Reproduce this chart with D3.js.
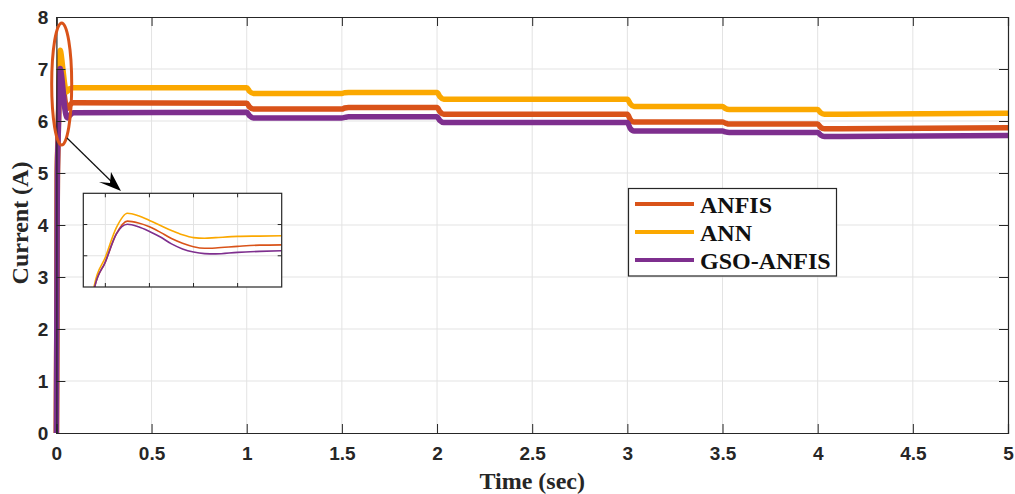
<!DOCTYPE html>
<html>
<head>
<meta charset="utf-8">
<script src="https://cdn.jsdelivr.net/npm/d3@7"></script>
<style>
  body { margin: 0; background: #fff; }
  svg { display: block; }
</style>
</head>
<body>
<div id="chart"></div>
<script>
// time axis (s) shared by all three controllers
const time = [0, 0.005, 0.010, 0.015, 0.020, 0.025, 0.030, 0.035, 0.040, 0.045, 0.050, 0.055, 0.060, 0.070, 0.080, 0.090,
  1.0, 1.015, 1.035, 1.5, 1.515, 1.535, 2.0, 2.015, 2.035, 3.0, 3.015, 3.035, 3.5, 3.515, 3.535, 4.0, 4.015, 4.035, 5.0]

const anfis = [0, 4.95, 5.8, 6.7, 7.11, 7.05, 6.93, 6.75, 6.55, 6.40, 6.29, 6.24, 6.25, 6.30, 6.34, 6.35,
  6.34, 6.27, 6.23, 6.23, 6.25, 6.26, 6.26, 6.18, 6.13, 6.13, 6.03, 5.98, 5.98, 5.96, 5.94, 5.94, 5.88, 5.85, 5.87]

const ann = [0, 5.05, 5.95, 6.9, 7.36, 7.28, 7.13, 6.97, 6.81, 6.67, 6.58, 6.56, 6.58, 6.62, 6.63, 6.64,
  6.64, 6.57, 6.53, 6.53, 6.545, 6.55, 6.55, 6.47, 6.42, 6.42, 6.33, 6.28, 6.28, 6.24, 6.22, 6.22, 6.16, 6.13, 6.15]

const gsoAnfis = [0, 4.95, 5.8, 6.7, 7.01, 6.93, 6.78, 6.60, 6.38, 6.22, 6.12, 6.07, 6.06, 6.11, 6.14, 6.16,
  6.17, 6.10, 6.06, 6.06, 6.07, 6.08, 6.08, 6.01, 5.97, 5.97, 5.86, 5.81, 5.81, 5.79, 5.78, 5.78, 5.73, 5.70, 5.72]

const seriesNames = ['ANFIS', 'ANN', 'GSO-ANFIS']
const xTicks = [0, 0.5, 1, 1.5, 2, 2.5, 3, 3.5, 4, 4.5, 5]
const yTicks = [0, 1, 2, 3, 4, 5, 6, 7, 8]
const insetXTicks = [0.01, 0.03, 0.05, 0.07]
const insetYTicks = [6, 7]

const colors = {'ANFIS': '#d95319', 'ANN': '#fba800', 'GSO-ANFIS': '#7e2f8e'}

const W = 1015, H = 494
const plot = {left: 56.4, right: 1008, top: 17, bottom: 433}

const series = [
  {name: 'ANFIS', values: anfis},
  {name: 'ANN', values: ann},
  {name: 'GSO-ANFIS', values: gsoAnfis},
]

const svg = d3.select('#chart').append('svg')
  .attr('width', W).attr('height', H)

const x = d3.scaleLinear().domain([0, 5]).range([plot.left, plot.right])
const y = d3.scaleLinear().domain([0, 8]).range([plot.bottom, plot.top])

const axisColor = '#262626'
const gridColor = '#e3e3e3'
const serif = '"Liberation Serif", "Times New Roman", serif'

// grid
svg.append('g').selectAll('line').data(xTicks.slice(1, -1)).join('line')
  .attr('x1', d => x(d)).attr('x2', d => x(d))
  .attr('y1', plot.top).attr('y2', plot.bottom)
  .attr('stroke', gridColor).attr('stroke-width', 1)
svg.append('g').selectAll('line').data(yTicks.slice(1, -1)).join('line')
  .attr('x1', plot.left).attr('x2', plot.right)
  .attr('y1', d => y(d)).attr('y2', d => y(d))
  .attr('stroke', gridColor).attr('stroke-width', 1)

// main lines
const line = d3.line()
  .x((d, i) => x(time[i]))
  .y(d => y(d))
  .curve(d3.curveMonotoneX)

svg.append('g').selectAll('path').data(series).join('path')
  .attr('d', d => line(d.values))
  .attr('fill', 'none')
  .attr('stroke', d => colors[d.name])
  .attr('stroke-width', 5.5)
  .attr('stroke-linejoin', 'round')

// axes (box with inward ticks)
const xAxis = d3.axisBottom(x).tickValues(xTicks).tickSize(-9).tickPadding(14)
  .tickFormat(d => d3.format('')(d))
const yAxis = d3.axisLeft(y).tickValues(yTicks).tickSize(-9).tickPadding(8)

svg.append('g').attr('transform', `translate(0,${plot.bottom})`).call(xAxis)
svg.append('g').attr('transform', `translate(${plot.left},0)`).call(yAxis)
svg.append('g').attr('transform', `translate(0,${plot.top})`)
  .call(d3.axisTop(x).tickValues(xTicks).tickSize(-9).tickFormat(''))
svg.append('g').attr('transform', `translate(${plot.right},0)`)
  .call(d3.axisRight(y).tickValues(yTicks).tickSize(-9).tickFormat(''))

svg.selectAll('.domain').attr('stroke', axisColor).attr('stroke-width', 1.2)
svg.selectAll('.tick line').attr('stroke', axisColor)
svg.selectAll('.tick text')
  .attr('font-family', '"Liberation Sans", Arial, sans-serif')
  .attr('font-weight', 'bold')
  .attr('font-size', 19)
  .attr('fill', axisColor)

// axis titles
svg.append('text')
  .attr('x', (plot.left + plot.right) / 2).attr('y', 489)
  .attr('text-anchor', 'middle')
  .attr('font-family', serif)
  .attr('font-weight', 'bold').attr('font-size', 24)
  .attr('fill', axisColor)
  .text('Time (sec)')

svg.append('text')
  .attr('transform', 'translate(28,223) rotate(-90)')
  .attr('text-anchor', 'middle')
  .attr('font-family', serif)
  .attr('font-weight', 'bold').attr('font-size', 24)
  .attr('fill', axisColor)
  .text('Current (A)')

// highlight ellipse + arrow
svg.append('ellipse')
  .attr('cx', 61.7).attr('cy', 84).attr('rx', 10).attr('ry', 61)
  .attr('fill', 'none').attr('stroke', '#d95319').attr('stroke-width', 3)

svg.append('line')
  .attr('x1', 67).attr('y1', 138).attr('x2', 116).attr('y2', 186)
  .attr('stroke', '#111').attr('stroke-width', 1.2)
svg.append('path')
  .attr('d', 'M121,191 L99,182 L110,183 L111,172 Z')
  .attr('fill', '#000')

// inset
const ix0 = 83.3, ix1 = 281.7, iy0 = 193.3, iy1 = 287
const ix = d3.scaleLinear().domain([0, 0.09]).range([ix0, ix1])
const iy = d3.scaleLinear().domain([5, 8]).range([iy1, iy0])

const inset = svg.append('g')
inset.append('rect')
  .attr('x', ix0).attr('y', iy0).attr('width', ix1 - ix0).attr('height', iy1 - iy0)
  .attr('fill', '#fff')

inset.append('g').selectAll('line').data(insetXTicks).join('line')
  .attr('x1', d => ix(d)).attr('x2', d => ix(d))
  .attr('y1', iy0).attr('y2', iy1)
  .attr('stroke', gridColor)
inset.append('g').selectAll('line').data(insetYTicks).join('line')
  .attr('x1', ix0).attr('x2', ix1)
  .attr('y1', d => iy(d)).attr('y2', d => iy(d))
  .attr('stroke', gridColor)

svg.append('clipPath').attr('id', 'insetClip')
  .append('rect')
  .attr('x', ix0).attr('y', iy0).attr('width', ix1 - ix0).attr('height', iy1 - iy0)

const insetLine = d3.line()
  .defined((d, i) => time[i] <= 0.1)
  .x((d, i) => ix(time[i]))
  .y(d => iy(d))
  .curve(d3.curveMonotoneX)

inset.append('g').attr('clip-path', 'url(#insetClip)')
  .selectAll('path').data(series).join('path')
  .attr('d', d => insetLine(d.values))
  .attr('fill', 'none')
  .attr('stroke', d => colors[d.name])
  .attr('stroke-width', 1.6)

// inset ticks on all four sides
const tk = 4
inset.append('g').selectAll('line').data(insetXTicks).join('line')
  .attr('x1', d => ix(d)).attr('x2', d => ix(d))
  .attr('y1', iy1).attr('y2', iy1 - tk).attr('stroke', axisColor)
inset.append('g').selectAll('line').data(insetXTicks).join('line')
  .attr('x1', d => ix(d)).attr('x2', d => ix(d))
  .attr('y1', iy0).attr('y2', iy0 + tk).attr('stroke', axisColor)
inset.append('g').selectAll('line').data(insetYTicks).join('line')
  .attr('x1', ix0).attr('x2', ix0 + tk)
  .attr('y1', d => iy(d)).attr('y2', d => iy(d)).attr('stroke', axisColor)
inset.append('g').selectAll('line').data(insetYTicks).join('line')
  .attr('x1', ix1).attr('x2', ix1 - tk)
  .attr('y1', d => iy(d)).attr('y2', d => iy(d)).attr('stroke', axisColor)

inset.append('rect')
  .attr('x', ix0).attr('y', iy0).attr('width', ix1 - ix0).attr('height', iy1 - iy0)
  .attr('fill', 'none').attr('stroke', axisColor).attr('stroke-width', 1.2)

// legend
const lx = 628.5, ly = 188.5
const legend = svg.append('g')
legend.append('rect')
  .attr('x', lx).attr('y', ly).attr('width', 208).attr('height', 87.5)
  .attr('fill', '#fff').attr('stroke', axisColor).attr('stroke-width', 1.2)

const items = legend.selectAll('g.item').data(seriesNames).join('g')
  .attr('class', 'item')
  .attr('transform', (d, i) => `translate(0,${204 + i * 28})`)
items.append('line')
  .attr('x1', 635).attr('x2', 694)
  .attr('stroke', d => colors[d]).attr('stroke-width', 4)
items.append('text')
  .attr('x', 700).attr('y', 8.5)
  .attr('font-family', serif)
  .attr('font-weight', 'bold').attr('font-size', 24)
  .attr('fill', '#111')
  .text(d => d)
</script>
</body>
</html>
